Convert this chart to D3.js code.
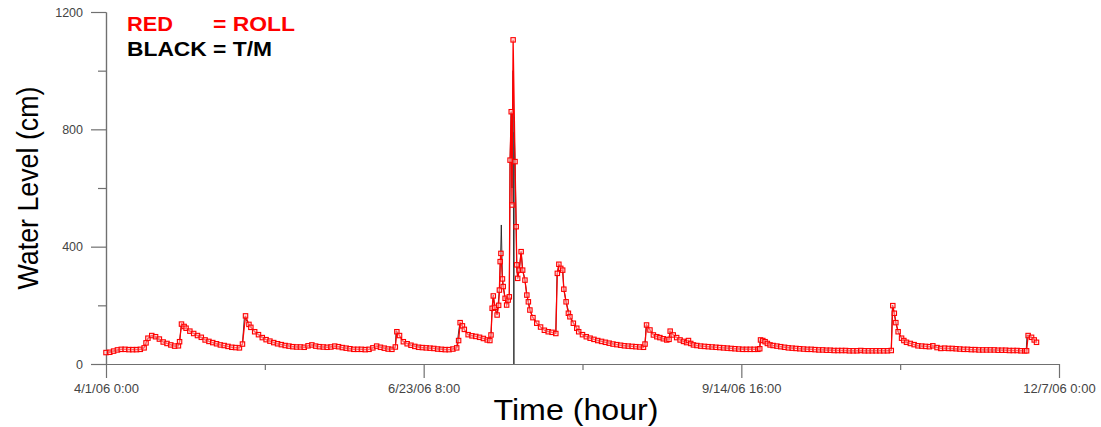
<!DOCTYPE html>
<html>
<head>
<meta charset="utf-8">
<script src="https://cdn.jsdelivr.net/npm/d3@7.9.0/dist/d3.min.js"></script>
<style>
  body { margin: 0; background: #fff; }
  svg { display: block; font-family: Arial, 'Liberation Sans', sans-serif; }
</style>
</head>
<body>
<svg id="chart" width="1101" height="427"></svg>
<script>
// time axis runs from 4/1/06 0:00, values are [day offset, water level in cm]
const startDate = Date.UTC(2006, 3, 1);
const endDate = Date.UTC(2006, 11, 7);
const majorTicks = [Date.UTC(2006, 3, 1), Date.UTC(2006, 5, 23, 8), Date.UTC(2006, 8, 14, 16), Date.UTC(2006, 11, 7)];
const minorTicks = [Date.UTC(2006, 4, 12, 16), Date.UTC(2006, 7, 4), Date.UTC(2006, 9, 26, 8)];
const yMajor = [0, 400, 800, 1200];
const yMinor = [200, 600, 1000];

// ROLL (red, with markers)
const rollPoints = [
  [0,39],[1,40],[2,44],[3,48],[4,50],[5,50],[6,49],[7,49],[8,49],[9,50],[10,55],[10.5,72],[11,88],[12,97],[13,93],[14,85],
  [15,75],[16,70],[17,65],[18,61],[19,62],[19.3,76],[19.8,136],[20.5,128],[21,122],[22,112],[23,104],[24,97],[25,91],[26,82],
  [27,77],[28,73],[29,69],[30,65],[31,63],[32,60],[33,57],[34,56],[35,55],[35.8,68],[36.6,164],[37.5,135],[38,125],[39,110],
  [40,100],[41,90],[42,83],[43,78],[44,73],[45,69],[46,66],[47,63],[48,61],[49,59],[50,58],[51,58],[52,57],[53,62],[54,65],
  [55,61],[56,59],[57,58],[58,57],[59,58],[60,61],[61,59],[62,56],[63,54],[64,52],[65,50],[66,50],[67,50],[68,49],[69,50],
  [70,55],[71,61],[72,57],[73,54],[74,51],[75,50],[75.9,58],[76.3,110],[77,97],[78,76],[79,69],[80,64],[81,60],[82,57],
  [83,56],[84,55],[85,54],[86,53],[87,51],[88,50],[89,49],[90,49],[91,51],[92,55],[92.5,80],[92.9,141],[93.5,130],[94,118],
  [95,100],[96,96],[97,94],[98,91],[99,87],[100,82],[100.7,80],[101,99],[101.3,190],[101.6,232],[102,193],[102.6,167],
  [103,200],[103.2,252],[103.4,349],[103.6,377],[104,290],[104.2,264],[104.7,224],[105.1,201],[105.5,218],[105.8,229],
  [106,695],[106.3,860],[106.5,542],[106.8,1105],[107.3,690],[107.6,468],[107.75,338],[108,292],[108.4,320],[108.9,383],
  [109.3,320],[109.9,286],[110.4,235],[110.8,212],[111.2,184],[112,158],[113,139],[114,126],[115,115],[116,110],[117,108],
  [118,104],[118.4,309],[118.8,340],[119.3,326],[119.8,320],[120.1,255],[120.7,212],[121.3,173],[121.7,161],[122.6,139],
  [123.5,122],[124,110],[125,100],[126,93],[127,88],[128,84],[129,80],[130,77],[131,74],[132,71],[133,68],[134,66],[135,64],
  [136,62],[137,61],[138,60],[139,59],[140,58],[141,57],[141.4,68],[141.8,133],[142.7,116],[143.6,99],[144.5,93],[145.3,90],
  [146.2,86],[147.1,82],[147.7,84],[148,112],[148.8,99],[149.7,90],[150.6,82],[151.5,77],[152.3,73],[152.8,80],[153.4,70],
  [154.1,65],[155,63],[156,61],[157,60],[158,59],[159,58],[160,57],[161,56],[162,55],[163,54],[164,53],[165,52],[166,51],
  [167,50],[168,50],[169,50],[170,50],[171,50],[171.5,52],[171.7,82],[172.3,80],[172.9,76],[173.5,70],[174.2,65],[175,63],
  [176,61],[177,59],[178,57],[179,55],[180,54],[181,53],[182,52],[183,51],[184,50],[185,50],[186,49],[187,48],[188,48],
  [189,47],[190,47],[191,46],[192,46],[193,46],[194,46],[195,45],[196,45],[197,45],[198,46],[199,45],[200,45],[201,45],
  [202,45],[203,45],[204,45],[205,45],[206,46],[206.4,199],[206.8,173],[207.2,141],[207.8,110],[208.7,88],[209.3,80],
  [210,74],[211,70],[212,66],[213,62],[214,61],[215,60],[216,59],[216.9,62],[218,56],[219,53],[220,54],[221,53],[222,53],
  [223,52],[224,51],[225,50],[226,50],[227,49],[228,49],[229,48],[230,48],[231,48],[232,48],[233,48],[234,47],[235,47],
  [236,47],[237,46],[238,46],[239,46],[240,45],[241,45],[241.5,45],[241.9,97],[242.8,91],[243.5,82],[244.1,74]
];

// T/M (black line)
const tmPoints = [
  [0,39],[4,50],[9,50],[10,55],[11,88],[12,97],[15,75],[18,61],[19,62],[19.3,76],[19.8,136],[21,122],[23,104],[26,82],
  [28,73],[30,65],[33,57],[35,55],[35.8,68],[36.3,161],[37.5,135],[39,110],[42,83],[45,69],[49,59],[52,57],[53,62],[54,65],
  [56,59],[58,57],[60,61],[62,56],[65,50],[69,50],[71,61],[74,51],[75.9,56],[76.1,113],[77,97],[78,76],[80,64],[83,56],
  [86,53],[90,49],[92,55],[92.6,120],[92.9,141],[94,118],[95,100],[98,91],[100.7,80],[101,99],[101.3,190],[101.6,235],
  [102,193],[102.6,167],[103.2,252],[103.5,360],[103.7,474],[104,290],[104.2,264],[104.7,224],[105.1,201],[105.5,218],
  [105.8,229],[106,695],[106.3,860],[106.5,600],[106.8,1000],[107,0],[107.1,790],[107.3,690],[107.6,468],[107.75,338],
  [108,292],[108.4,320],[108.9,383],[109.3,320],[109.9,286],[110.4,235],[111.2,184],[112,158],[113,139],[115,115],[118,104],
  [118.3,300],[118.8,340],[119.3,326],[119.8,320],[120.1,255],[120.7,212],[121.7,161],[123.5,122],[125,100],[128,84],
  [131,74],[135,64],[138,60],[141,57],[141.4,68],[141.7,133],[142.7,116],[143.6,99],[145.3,90],[147.1,82],[147.7,84],
  [147.9,112],[148.8,99],[150.6,82],[152.3,73],[152.8,80],[154.1,65],[157,60],[161,56],[165,52],[171,50],[171.5,52],
  [171.6,84],[172.9,76],[174.2,65],[177,59],[181,53],[185,50],[190,47],[195,45],[206,46],[206.3,201],[206.8,173],
  [207.2,141],[207.8,110],[208.7,88],[210,74],[213,62],[216,59],[216.9,62],[219,53],[225,50],[230,48],[235,47],[241.4,45],
  [241.6,98],[242.8,91],[243.5,82],[244.1,74]
];

const svg = d3.select('#chart');
const toDate = (d) => new Date(startDate + d * 864e5);

const x = d3.scaleUtc().domain([startDate, endDate]).range([106, 1059]);
const y = d3.scaleLinear().domain([0, 1200]).range([364, 12]);

const axisColor = '#707070';
const labelColor = '#444';

// y axis
let yAxis = svg.append('g').attr('transform', 'translate(106,0)')
  .call(d3.axisLeft(y).tickValues(yMajor).tickSize(15).tickSizeOuter(0).tickPadding(8).tickFormat(d3.format('d')));
svg.append('g').attr('transform', 'translate(106,0)')
  .call(d3.axisLeft(y).tickValues(yMinor).tickSize(8).tickSizeOuter(0).tickFormat(''));

// x axis
let fmt = d3.utcFormat('%-m/%-d/%y %-H:%M');
let xAxis = svg.append('g').attr('transform', 'translate(0,364)')
  .call(d3.axisBottom(x).tickValues(majorTicks.map((t) => new Date(t))).tickSize(14).tickSizeOuter(0).tickPadding(6).tickFormat(fmt));
svg.append('g').attr('transform', 'translate(0,364)')
  .call(d3.axisBottom(x).tickValues(minorTicks.map((t) => new Date(t))).tickSize(6).tickSizeOuter(0).tickFormat(''));

svg.selectAll('.domain, .tick line').attr('stroke', axisColor).attr('stroke-width', 1.2);
svg.selectAll('.tick text').attr('fill', labelColor).attr('font-family', "Arial, 'Liberation Sans', sans-serif");
yAxis.selectAll('.tick text').attr('font-size', 12.5);
xAxis.selectAll('.tick text').attr('font-size', 13);

// series: black under red
let line = d3.line().x((d) => x(toDate(d[0]))).y((d) => y(d[1]));

svg.append('path').datum(tmPoints)
  .attr('d', line).attr('fill', 'none').attr('stroke', '#222').attr('stroke-width', 0.9);

svg.append('path').datum(rollPoints)
  .attr('d', line).attr('fill', 'none').attr('stroke', '#ff0000').attr('stroke-width', 1.3);

svg.append('g').selectAll('rect').data(rollPoints).join('rect')
  .attr('x', (d) => x(toDate(d[0])) - 2.2)
  .attr('y', (d) => y(d[1]) - 2.2)
  .attr('width', 4.4).attr('height', 4.4)
  .attr('fill', '#ffd0d0').attr('fill-opacity', 0.5)
  .attr('stroke', '#ff0000').attr('stroke-width', 1.1);

// titles
svg.append('text').attr('x', 576).attr('y', 420).attr('text-anchor', 'middle')
  .attr('font-size', 29).attr('textLength', 165).attr('lengthAdjust', 'spacingAndGlyphs')
  .attr('fill', '#000').text('Time (hour)');

svg.append('text').attr('transform', 'translate(38,188) rotate(-90)').attr('text-anchor', 'middle')
  .attr('font-size', 30).attr('textLength', 203).attr('lengthAdjust', 'spacingAndGlyphs')
  .attr('fill', '#000').text('Water Level (cm)');

// legend
svg.append('text').attr('x', 127).attr('y', 31).attr('font-size', 21).attr('font-weight', 'bold')
  .attr('textLength', 46).attr('lengthAdjust', 'spacingAndGlyphs').attr('fill', '#ff0000').text('RED');
svg.append('text').attr('x', 213).attr('y', 31).attr('font-size', 21).attr('font-weight', 'bold')
  .attr('textLength', 82).attr('lengthAdjust', 'spacingAndGlyphs').attr('fill', '#ff0000').text('= ROLL');
svg.append('text').attr('x', 127).attr('y', 56).attr('font-size', 21).attr('font-weight', 'bold')
  .attr('textLength', 145).attr('lengthAdjust', 'spacingAndGlyphs').attr('fill', '#000').text('BLACK = T/M');
</script>
</body>
</html>
